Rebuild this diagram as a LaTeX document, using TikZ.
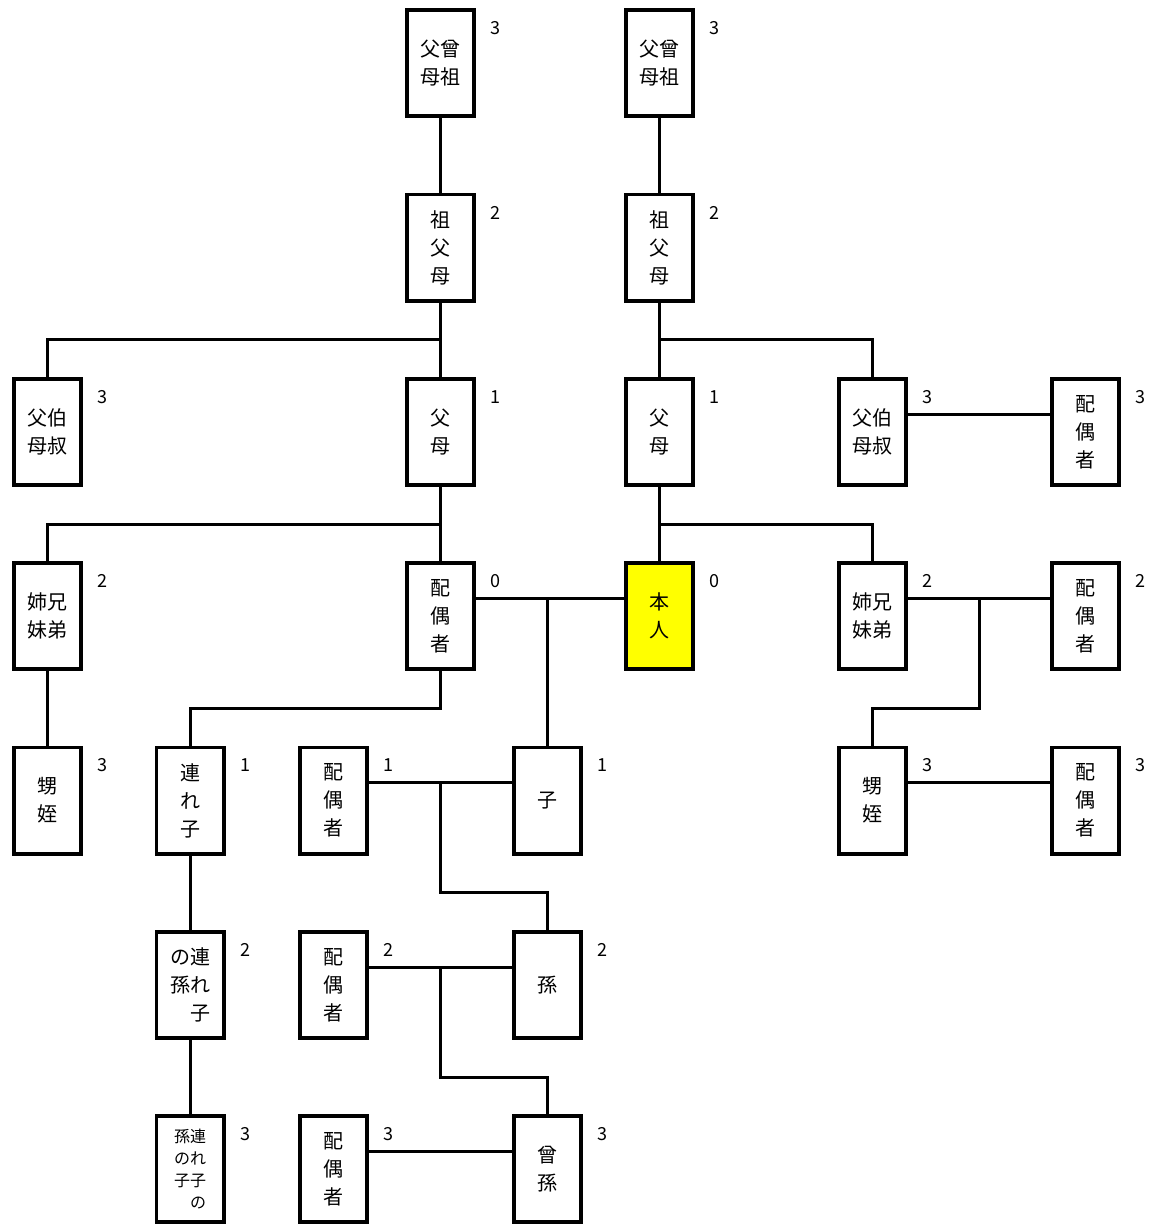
\documentclass[tikz,border=0pt]{standalone}
\usepackage{fontspec}
\setmainfont{Noto Sans CJK JP}
\usetikzlibrary{calc}

\definecolor{selfyellow}{RGB}{255,255,0}

\tikzset{
  kin/.style={draw, line width=3.6pt, fill=white, minimum width=67.4pt,
    minimum height=106.4pt, inner sep=0pt, align=center,
    font=\fontsize{20}{28}\selectfont},
  self/.style={kin, fill=selfyellow},
  deg/.style={inner sep=0pt, font=\fontsize{18}{20}\selectfont},
  conn/.style={line width=3pt, line cap=rect},
}

\begin{document}
\begin{tikzpicture}[x=1pt, y=-1pt]
\useasboundingbox (0,0) rectangle (1157,1225);

% ---- relatives (columns A..H, rows 0..6) ----
\node[kin] (D0) at (440.5,63) {父曾\\母祖};
\node[kin] (F0) at (659.5,63) {父曾\\母祖};

\node[kin] (D1) at (440.5,247.5) {祖\\父\\母};
\node[kin] (F1) at (659.5,247.5) {祖\\父\\母};

\node[kin] (A2) at (47.5,432) {父伯\\母叔};
\node[kin] (D2) at (440.5,432) {父\\母};
\node[kin] (F2) at (659.5,432) {父\\母};
\node[kin] (G2) at (872.5,432) {父伯\\母叔};
\node[kin] (H2) at (1085.5,432) {配\\偶\\者};

\node[kin] (A3) at (47.5,616) {姉兄\\妹弟};
\node[kin] (D3) at (440.5,616) {配\\偶\\者};
\node[self] (F3) at (659.5,616) {本\\人};
\node[kin] (G3) at (872.5,616) {姉兄\\妹弟};
\node[kin] (H3) at (1085.5,616) {配\\偶\\者};

\node[kin] (A4) at (47.5,800.5) {甥\\姪};
\node[kin] (B4) at (190,800.5) {連\\れ\\子};
\node[kin] (C4) at (333.5,800.5) {配\\偶\\者};
\node[kin] (E4) at (547.5,800.5) {子};
\node[kin] (G4) at (872.5,800.5) {甥\\姪};
\node[kin] (H4) at (1085.5,800.5) {配\\偶\\者};

\node[kin, align=right] (B5) at (190,985) {の連\\孫れ\\子};
\node[kin] (C5) at (333.5,985) {配\\偶\\者};
\node[kin] (E5) at (547.5,985) {孫};

\node[kin, align=right, font=\fontsize{16}{22}\selectfont] (B6) at (190,1169) {孫連\\のれ\\子子\\の};
\node[kin] (C6) at (333.5,1169) {配\\偶\\者};
\node[kin] (E6) at (547.5,1169) {曾\\孫};

% ---- degree of kinship ----
\foreach \n/\d in {D0/3,F0/3,D1/2,F1/2,A2/3,D2/1,F2/1,G2/3,H2/3,
                   A3/2,D3/0,F3/0,G3/2,H3/2,A4/3,B4/1,C4/1,E4/1,G4/3,H4/3,
                   B5/2,C5/2,E5/2,B6/3,C6/3,E6/3}
  \node[deg] (deg\n) at ([xshift=19.5pt,yshift=-20pt]\n.north east) {\d};

% ---- lines of descent ----
\draw[conn] (D0) -- (D1);
\draw[conn] (F0) -- (F1);

\draw[conn] (D1) -- (D2);
\draw[conn] (A2.north) |- ($(D1.south)!0.5!(D2.north)$);
\draw[conn] (F1) -- (F2);
\draw[conn] (G2.north) |- ($(F1.south)!0.5!(F2.north)$);

\draw[conn] (D2) -- (D3);
\draw[conn] (A3.north) |- ($(D2.south)!0.5!(D3.north)$);
\draw[conn] (F2) -- (F3);
\draw[conn] (G3.north) |- ($(F2.south)!0.5!(F3.north)$);

\draw[conn] (A3) -- (A4);
\draw[conn] (D3.south) |- ($(B4.north)!0.5!(B4.north |- D3.south)$) -- (B4.north);
\draw[conn] (B4) -- (B5);
\draw[conn] (B5) -- (B6);

% ---- marriages ----
\coordinate (mG2) at ([yshift=18pt]G2.east);
\coordinate (mH2) at ([yshift=18pt]H2.west);
\draw[conn] (mG2) -- (mH2);

\coordinate (mD3) at ([yshift=18pt]D3.east);
\coordinate (mF3) at ([yshift=18pt]F3.west);
\draw[conn] (mD3) -- (mF3);
\draw[conn] (E4.north) -- (E4.north |- mD3);

\coordinate (mG3) at ([yshift=18pt]G3.east);
\coordinate (mH3) at ([yshift=18pt]H3.west);
\draw[conn] (mG3) -- (mH3);
\coordinate (jG3) at ($(mG3)!0.5!(mH3)$);
\draw[conn] (jG3) |- ($(G3.south)!0.5!(G4.north)$) -- (G4.north);

\coordinate (mG4) at ([yshift=18pt]G4.east);
\coordinate (mH4) at ([yshift=18pt]H4.west);
\draw[conn] (mG4) -- (mH4);

\coordinate (mC4) at ([yshift=18pt]C4.east);
\coordinate (mE4) at ([yshift=18pt]E4.west);
\draw[conn] (mC4) -- (mE4);
\coordinate (jC4) at ($(mC4)!0.5!(mE4)$);
\draw[conn] (jC4) |- ($(E4.south)!0.5!(E5.north)$) -- (E5.north);

\coordinate (mC5) at ([yshift=18pt]C5.east);
\coordinate (mE5) at ([yshift=18pt]E5.west);
\draw[conn] (mC5) -- (mE5);
\coordinate (jC5) at ($(mC5)!0.5!(mE5)$);
\draw[conn] (jC5) |- ($(E5.south)!0.5!(E6.north)$) -- (E6.north);

\coordinate (mC6) at ([yshift=18pt]C6.east);
\coordinate (mE6) at ([yshift=18pt]E6.west);
\draw[conn] (mC6) -- (mE6);
\end{tikzpicture}
\end{document}
